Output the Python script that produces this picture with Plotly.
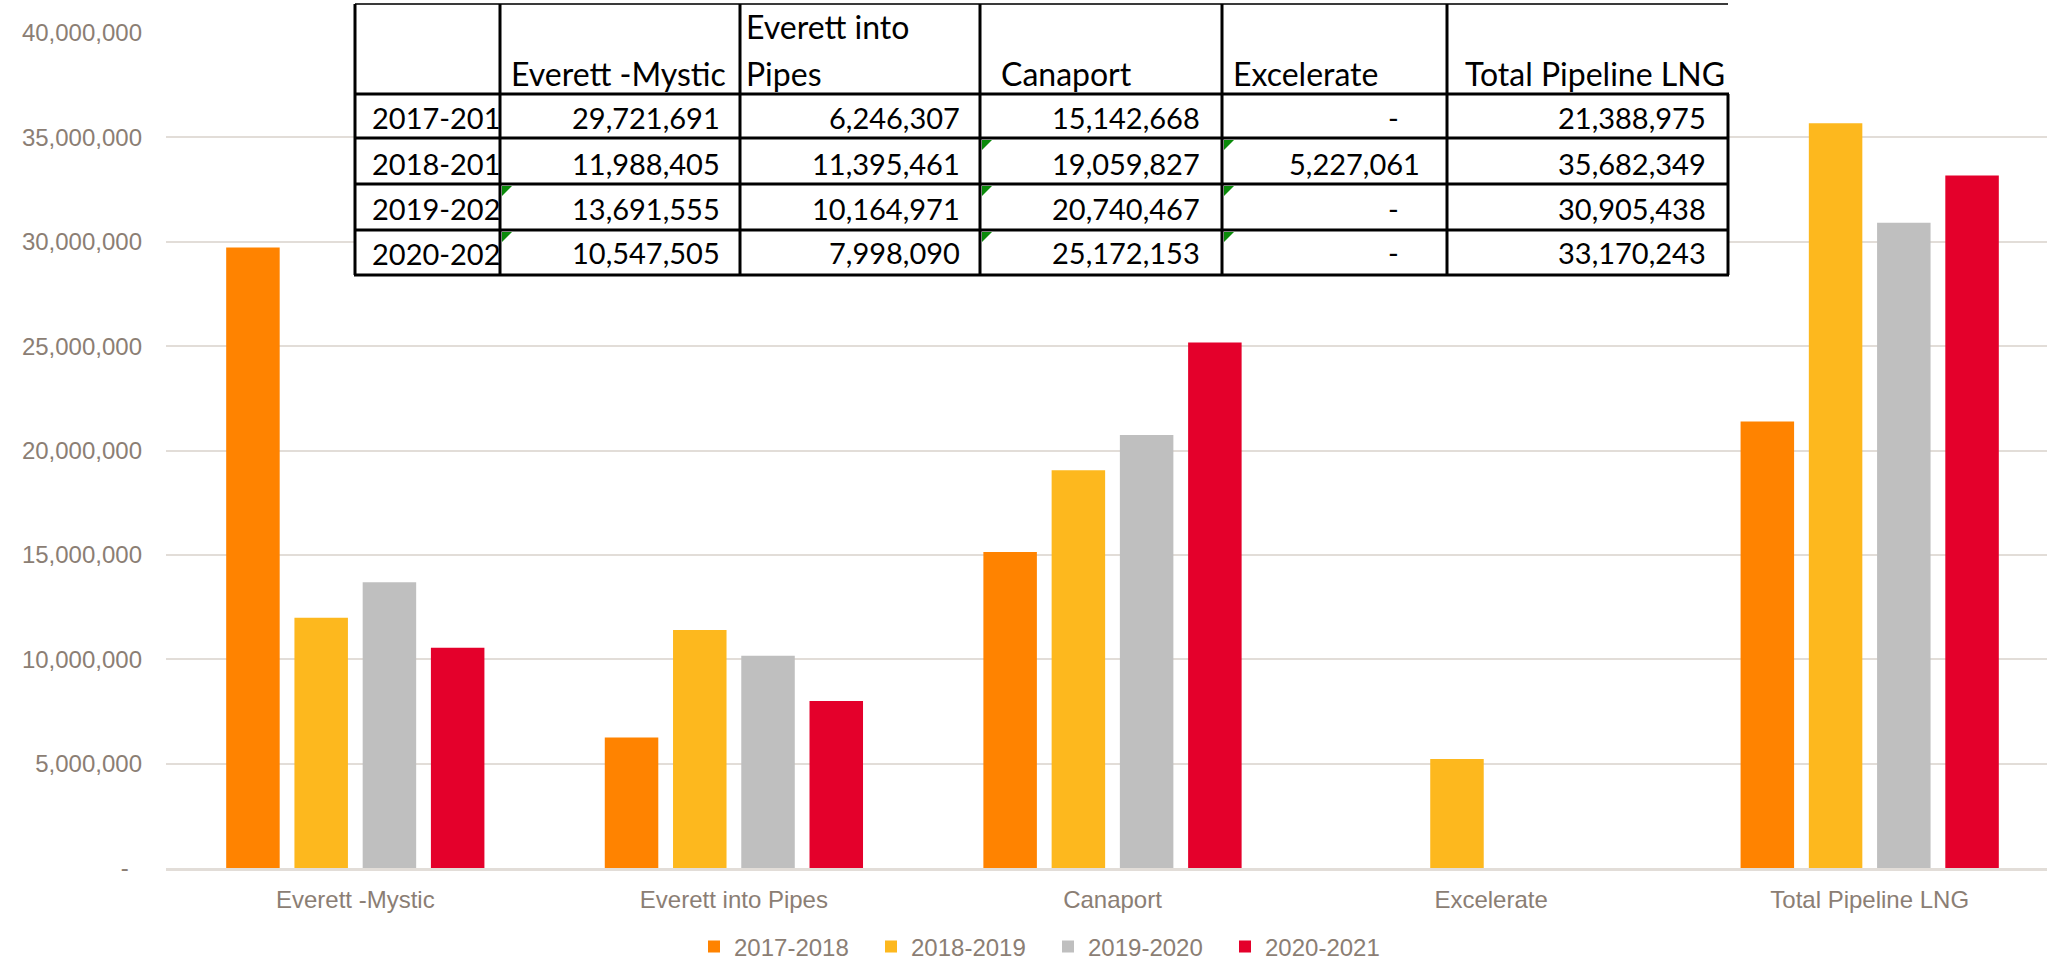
import plotly.graph_objects as go

# ---------------- data ----------------
categories = ["Everett -Mystic", "Everett into Pipes", "Canaport", "Excelerate", "Total Pipeline LNG"]
series_names = ["2017-2018", "2018-2019", "2019-2020", "2020-2021"]
v_2017_2018 = [29721691, 6246307, 15142668, 0, 21388975]
v_2018_2019 = [11988405, 11395461, 19059827, 5227061, 35682349]
v_2019_2020 = [13691555, 10164971, 20740467, 0, 30905438]
v_2020_2021 = [10547505, 7998090, 25172153, 0, 33170243]
series_values = [v_2017_2018, v_2018_2019, v_2019_2020, v_2020_2021]
colors = ["#FF8300", "#FDB81E", "#BFBFBF", "#E4002B"]
y_tickvals = [0, 5000000, 10000000, 15000000, 20000000, 25000000, 30000000, 35000000, 40000000]
table_headers = ["Everett -Mystic", "Everett into<br>Pipes", "Canaport", "Excelerate", "Total Pipeline LNG"]

W, H = 2047, 962
ML, MR, MT, MB = 166, 0, 33, 94
PW, PH = W - ML - MR, H - MT - MB

def fx(px):
    return (px - ML) / PW

def fy(py):
    return (H - MB - py) / PH

TXT = "#8B7E74"
GRID = "#E2DDD8"
AXFONT = "Liberation Sans, Arial, sans-serif"
TFONT = "Lato, Carlito, Calibri, sans-serif"
HSIZE = 32
NSIZE = 29

fig = go.Figure()
for name, vals, col in zip(series_names, series_values, colors):
    fig.add_trace(go.Bar(name=name, x=categories, y=vals, marker=dict(color=col, line=dict(width=0)),
                         hoverinfo="x+y+name"))

def fmt(v):
    return "-" if v == 0 else f"{v:,}"

ticktext = [("-\u00a0\u00a0" if v == 0 else f"{v:,}") for v in y_tickvals]

# ---------------- table (drawn over chart) ----------------
t_left, t_right = 355, 1728
col_x = [355, 500, 740, 980, 1222, 1447, 1728]
row_y = [4, 94, 138, 184, 230, 275]

shapes = []
shapes.append(dict(type="rect", xref="paper", yref="paper", x0=fx(col_x[1]), x1=fx(t_right),
                   y0=fy(row_y[1]), y1=fy(row_y[-1]), fillcolor="white", line=dict(width=0), layer="above"))
shapes.append(dict(type="line", xref="paper", yref="paper", x0=fx(t_left), x1=fx(t_right),
                   y0=fy(row_y[0]), y1=fy(row_y[0]), line=dict(color="#3a3a3a", width=2), layer="above"))
for ry in row_y[1:]:
    shapes.append(dict(type="line", xref="paper", yref="paper", x0=fx(t_left - 1), x1=fx(t_right + 1),
                       y0=fy(ry), y1=fy(ry), line=dict(color="black", width=3), layer="above"))
for cx in col_x[:-1]:
    shapes.append(dict(type="line", xref="paper", yref="paper", x0=fx(cx), x1=fx(cx),
                       y0=fy(row_y[0]), y1=fy(row_y[-1]), line=dict(color="black", width=3), layer="above"))
shapes.append(dict(type="line", xref="paper", yref="paper", x0=fx(col_x[-1]), x1=fx(col_x[-1]),
                   y0=fy(row_y[1]), y1=fy(row_y[-1]), line=dict(color="black", width=3), layer="above"))

# green error-indicator triangles (top-left of some cells)
tri_cells = [(1, 2), (1, 3), (3, 1), (3, 2), (3, 3), (4, 1), (4, 2), (4, 3)]
for ci, ri in tri_cells:
    x0 = col_x[ci] + 2
    y0 = row_y[1 + ri] + 2
    path = f"M {fx(x0)},{fy(y0)} L {fx(x0 + 10)},{fy(y0)} L {fx(x0)},{fy(y0 + 10)} Z"
    shapes.append(dict(type="path", xref="paper", yref="paper", path=path, fillcolor="#0A8A0A",
                       line=dict(width=0), layer="above"))

annotations = []
hdr_x = [509, 744, 999, 1231, 1463]
def hdr(text, x, y):
    annotations.append(dict(text=text, x=fx(x), y=fy(y), xref="paper", yref="paper", showarrow=False,
                            xanchor="left", yanchor="middle", font=dict(family=TFONT, size=HSIZE, color="black")))
for i, htxt in enumerate(table_headers):
    if "<br>" in htxt:
        a, b = htxt.split("<br>")
        hdr(a, hdr_x[i], 26)
        hdr(b, hdr_x[i], 74)
    else:
        hdr(htxt, hdr_x[i], 74)

row_center = [117, 163, 208, 253]
num_right = [722, 962, 1202, 1422, 1708]
for ri, vals in enumerate(series_values):
    for ci, v in enumerate(vals):
        if v == 0:
            annotations.append(dict(text="-", x=fx(1393), y=fy(row_center[ri]), xref="paper", yref="paper",
                                    showarrow=False, xanchor="center", yanchor="middle",
                                    font=dict(family=TFONT, size=NSIZE, color="black")))
        else:
            annotations.append(dict(text=fmt(v), x=fx(num_right[ci]), y=fy(row_center[ri]), xref="paper",
                                    yref="paper", showarrow=False, xanchor="right", yanchor="middle",
                                    font=dict(family=TFONT, size=NSIZE, color="black")))

# first table column: white cell background + clipped row labels, in a small subplot
label_y = [r + 5 for r in row_center]
fig.add_trace(go.Scatter(x=[355, 500, 500, 355, 355], y=[94, 94, 275, 275, 94], mode="lines", fill="toself",
                         fillcolor="white", line=dict(width=0, color="white"), showlegend=False,
                         hoverinfo="skip", xaxis="x2", yaxis="y2"))
fig.add_trace(go.Scatter(x=[372] * 4, y=label_y, text=series_names, mode="text",
                         textposition="middle right", cliponaxis=True, showlegend=False, hoverinfo="skip",
                         textfont=dict(family=TFONT, size=NSIZE, color="black"),
                         xaxis="x2", yaxis="y2"))

fig.update_layout(
    width=W, height=H, autosize=False,
    margin=dict(l=ML, r=MR, t=MT, b=MB, pad=0, autoexpand=False),
    paper_bgcolor="white", plot_bgcolor="white",
    barmode="group", bargap=0.279, bargroupgap=0.216,
    font=dict(family=AXFONT, size=24, color=TXT),
    xaxis=dict(range=[-0.5, -0.5 + PW / 378.6], showgrid=False, showline=True, linecolor=GRID, linewidth=3,
               ticks="", ticklabelstandoff=8, tickfont=dict(family=AXFONT, size=24, color=TXT), fixedrange=True),
    yaxis=dict(range=[0, 40000000], tickvals=y_tickvals, ticktext=ticktext, showgrid=True, gridcolor=GRID,
               gridwidth=2, zeroline=False, showline=False, ticks="", ticklabelstandoff=23,
               tickfont=dict(family=AXFONT, size=24, color=TXT), fixedrange=True),
    xaxis2=dict(domain=[fx(355), fx(500)], range=[355, 500], visible=False, anchor="y2", fixedrange=True),
    yaxis2=dict(domain=[fy(275), fy(94)], range=[275, 94], visible=False, anchor="x2", fixedrange=True),
    legend=dict(orientation="h", x=fx(694), xanchor="left", y=fy(947), yanchor="middle",
                font=dict(family=AXFONT, size=24, color=TXT), entrywidth=132, entrywidthmode="pixels",
                itemwidth=30, traceorder="normal", bgcolor="rgba(0,0,0,0)"),
    shapes=shapes, annotations=annotations,
    showlegend=True,
)

fig.write_html("out.html", config={"displayModeBar": False},
               post_script="document.body.style.margin='0';")
